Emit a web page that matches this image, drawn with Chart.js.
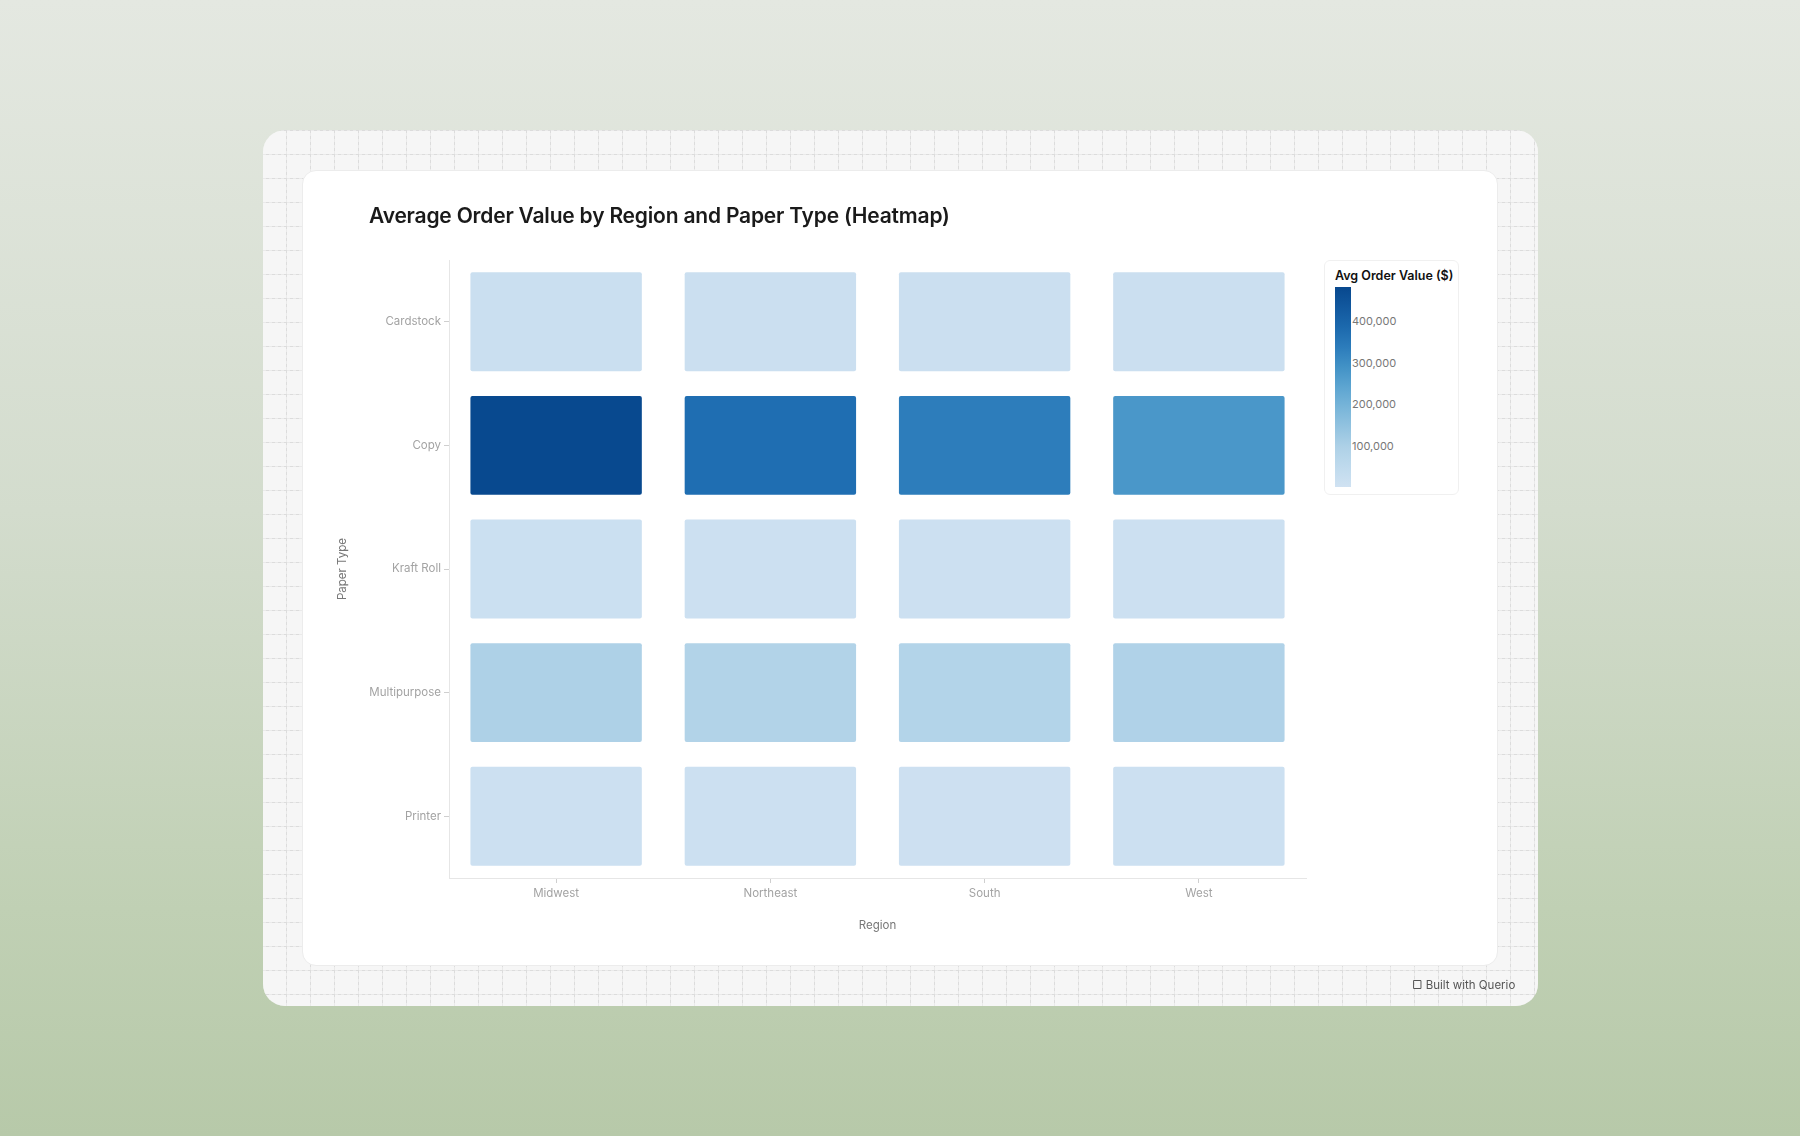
<!DOCTYPE html>
<html><head><meta charset="utf-8">
<script src="https://cdn.jsdelivr.net/npm/chart.js@4"></script>
<style>
html,body{margin:0;padding:0;width:1800px;height:1136px;overflow:hidden;font-family:Inter,"Noto Sans",sans-serif}
body{background:linear-gradient(180deg,#e4e8e1 0%,#d3dccd 45%,#c0d0b4 80%,#b7c9a9 100%)}
#outer{position:absolute;left:263px;top:130px;width:1275px;height:876px;border-radius:22px;background-color:#f6f6f6;
background-image:linear-gradient(90deg,transparent 23px,#dcdcdc 23px 24px),linear-gradient(0deg,transparent 23px,#dcdcdc 23px 24px);
background-size:24px 24px,24px 24px;overflow:hidden}
#mask{position:absolute;inset:0;background-image:linear-gradient(0deg,#f6f6f6 50%,transparent 50%),linear-gradient(90deg,#f6f6f6 50%,transparent 50%);background-size:6px 6px;mix-blend-mode:lighten;opacity:.55}
#card{position:absolute;left:302px;top:170px;width:1196px;height:796px;background:#fff;border-radius:14px;border:1px solid #ececec;box-sizing:border-box}
#title{position:absolute;left:369px;top:203px;font-size:21px;font-weight:600;color:#1a1a1a;letter-spacing:-0.2px}
canvas{position:absolute;left:302px;top:170px}
#legend{position:absolute;left:1324px;top:260px;width:135px;height:235px;border:1px solid #f0f0f0;border-radius:6px;box-sizing:border-box;background:#fff}
#ltitle{position:absolute;left:10px;top:7px;font-size:12.5px;font-weight:600;color:#111}
#bar{position:absolute;left:10px;top:26px;width:16px;height:200px}
.lt{position:absolute;left:27px;font-size:11px;color:#777}
#built{position:absolute;left:1412px;top:978px;font-size:11.5px;color:#555}
</style></head><body>
<div id="outer"><div id="mask"></div></div>
<div id="card"></div>
<div id="title">Average Order Value by Region and Paper Type (Heatmap)</div>
<canvas id="c" width="1196" height="796"></canvas>
<div id="legend"><div id="ltitle">Avg Order Value ($)</div><div id="bar"></div></div>
<div id="built">&#9634; Built with Querio</div>
<script>
const regions=["Midwest","Northeast","South","West"];
const paperTypes=["Cardstock","Copy","Kraft Roll","Multipurpose","Printer"];
const cardstock=[16000,15000,15000,15000];
const copy=[480000,370000,335000,275000];
const kraftRoll=[13000,12000,11000,12000];
const multipurpose=[95000,85000,82000,92000];
const printer=[11000,10000,9000,10000];
const legendTicks=[100000,200000,300000,400000];
const colorMin=0,colorMax=482000;

const rows=[cardstock,copy,kraftRoll,multipurpose,printer];
const stops=[[0,[208,226,242]],[0.2,[174,209,231]],[0.45,[107,174,214]],[0.6,[66,146,198]],[0.75,[33,113,181]],[1,[8,72,142]]];
function color(v){let t=(v-colorMin)/(colorMax-colorMin);t=Math.max(0,Math.min(1,t));
for(let i=1;i<stops.length;i++){if(t<=stops[i][0]){const [a,ca]=stops[i-1],[b,cb]=stops[i];const f=(t-a)/(b-a);
return 'rgb('+ca.map((c,k)=>Math.round(c+(cb[k]-c)*f)).join(',')+')';}}return 'rgb(8,72,142)';}

const pts=[];
paperTypes.forEach((p,i)=>regions.forEach((r,j)=>pts.push({x:r,y:p,v:rows[i][j]})));

const heat={id:'heat',beforeDatasetsDraw(ch){const {ctx,scales:{x,y}}=ch;
const cw=(x.getPixelForValue(1)-x.getPixelForValue(0))*0.8,chh=(y.getPixelForValue(1)-y.getPixelForValue(0))*0.8;
ctx.save();pts.forEach(p=>{const cx=x.getPixelForValue(regions.indexOf(p.x)),cy=y.getPixelForValue(paperTypes.indexOf(p.y));
ctx.fillStyle=color(p.v);ctx.beginPath();ctx.roundRect(cx-cw/2,cy-chh/2,cw,chh,2);ctx.fill();});ctx.restore();}};

const tickFont={family:'Inter',size:11.5};
new Chart(document.getElementById('c'),{type:'scatter',
data:{datasets:[{data:pts,pointRadius:0,pointHoverRadius:0}]},
options:{responsive:false,animation:false,events:[],
layout:{padding:{left:30,right:192,top:90,bottom:30}},
plugins:{legend:{display:false},tooltip:{enabled:false}},
scales:{
x:{type:'category',labels:regions,offset:true,grid:{drawOnChartArea:false,drawTicks:true,tickLength:5,color:'#cfcfcf'},border:{color:'#e6e6e6'},
ticks:{color:'#a3a3a3',font:tickFont,padding:4},title:{display:true,text:'Region',color:'#777',font:{family:'Inter',size:11.5},padding:{top:6}},
afterFit(s){s.height=58;}},
y:{type:'category',labels:paperTypes,offset:true,grid:{drawOnChartArea:false,drawTicks:true,tickLength:5,color:'#cfcfcf'},border:{color:'#e6e6e6'},
ticks:{color:'#a3a3a3',font:tickFont,padding:3},title:{display:true,text:'Paper Type',color:'#777',font:{family:'Inter',size:11.5}},
afterFit(s){s.width=117;}}
}},plugins:[heat]});

const bar=document.getElementById('bar');
const g=[];for(let i=0;i<=10;i++){const v=colorMax-(colorMax-colorMin)*i/10;g.push(color(v)+' '+(i*10)+'%');}
bar.style.background='linear-gradient(180deg,'+g.join(',')+')';
legendTicks.forEach(v=>{const d=document.createElement('div');d.className='lt';d.textContent=v.toLocaleString('en-US');
d.style.top=(26+200*(colorMax-v)/(colorMax-colorMin)-7)+'px';document.getElementById('legend').appendChild(d);});
</script></body></html>
